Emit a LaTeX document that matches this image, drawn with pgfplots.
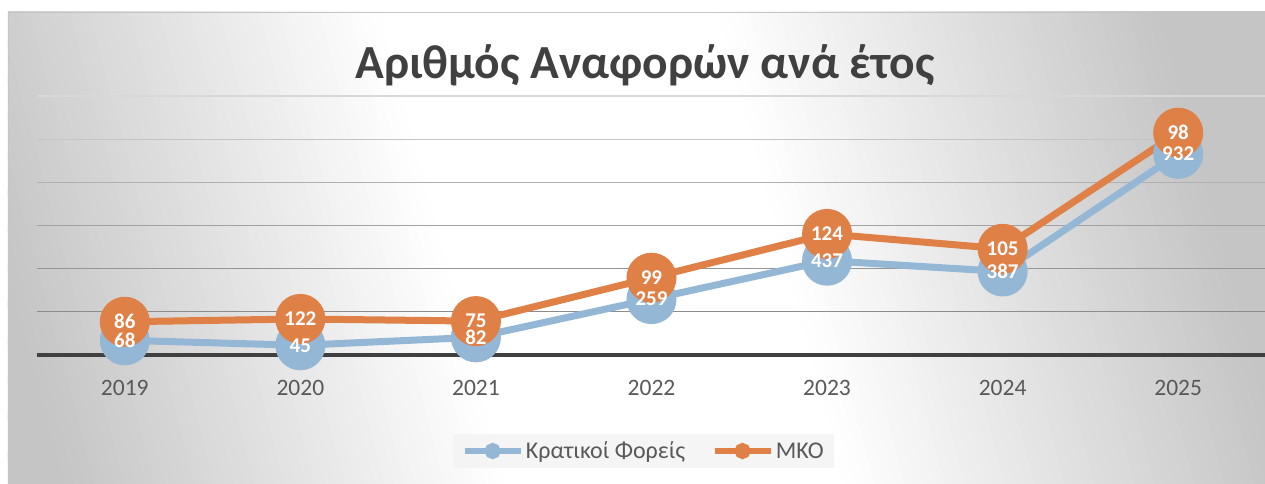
\documentclass[border=0pt]{standalone}
\usepackage{fontspec}
\setmainfont{Carlito}
\usepackage{pgfplots}
\pgfplotsset{compat=1.18}
\usepackage{pgfplotstable}
\definecolor{kf}{RGB}{149,183,214}
\definecolor{mko}{RGB}{223,128,71}
\definecolor{bggray}{RGB}{197,197,197}
\definecolor{txt}{RGB}{64,64,64}
\definecolor{tickc}{RGB}{89,89,89}
\definecolor{g1}{RGB}{140,140,140}
\definecolor{g2}{RGB}{150,150,150}
\definecolor{g3}{RGB}{162,162,162}
\definecolor{g4}{RGB}{176,176,176}
\definecolor{g5}{RGB}{196,196,196}
\definecolor{g6}{RGB}{216,216,216}

% x = year index, kf = Κρατικοί Φορείς, mko = ΜΚΟ, top = stacked position (kf+mko)
\pgfplotstableread{
x kf mko top
0 68 86 154
1 45 122 167
2 82 75 157
3 259 99 358
4 437 124 561
5 387 105 492
6 932 98 1030
}\data

\begin{document}
\begin{tikzpicture}[x=1pt,y=1pt]
\useasboundingbox (-37,-128) rectangle (1228,355);
\fill[white] (-37,-128) rectangle (1228,355);
\begin{scope}
\clip (-29,-128) rectangle (1228,343);
\foreach \d in {-700,-690,...,720}{
  \pgfmathsetmacro\t{min(max((abs(\d+5)-170)/440,0),1)*100}
  \fill[bggray!\t!white] ({508.5+\d},356) -- ({520+\d},356) -- ({654+\d},-146) -- ({642.5+\d},-146) -- cycle;
}
\end{scope}
\draw[gray!45, line width=0.8pt] (-29,-130) -- (-29,343) -- (1230,343);
\node[txt, anchor=base, font=\bfseries\fontsize{47.5}{52}\selectfont] at (608,277) {Αριθμός Αναφορών ανά έτος};
\begin{axis}[
  at={(0,0)}, anchor=south west,
  scale only axis, width=1229pt, height=259pt,
  xmin=-0.5, xmax=6.5, ymin=0, ymax=1200,
  clip=false,
  /pgf/number format/assume math mode=true,
  axis line style={draw=none},
  xtick={0,...,6},
  xticklabels={2019,2020,2021,2022,2023,2024,2025},
  ytick=\empty,
  major tick length=0pt,
  xticklabel style={anchor=base, yshift=-40.5pt, text=tickc, font=\fontsize{23.5}{28}\selectfont},
  legend columns=2,
  legend style={at={(0.4935,-0.3707)}, anchor=center, draw=none, fill={rgb,255:red,242;green,242;blue,242}, fill opacity=0.7, text opacity=1,
    font=\fontsize{24}{28}\selectfont, text=tickc, inner xsep=8pt, inner ysep=6pt,
    /tikz/every even column/.append style={column sep=24pt}},
  legend image code/.code={\begin{scope}[#1]\draw[line width=6.5pt, mark=none] (0pt,0pt) -- (56pt,0pt); \fill (28pt,0pt) circle (4.5pt);\end{scope}},
]
\draw[g6, line width=1.3pt] (axis cs:-0.5,1200) -- (axis cs:6.5,1200);
\draw[g5, line width=1.3pt] (axis cs:-0.5,1000) -- (axis cs:6.5,1000);
\draw[g4, line width=1.3pt] (axis cs:-0.5,800) -- (axis cs:6.5,800);
\draw[g3, line width=1.3pt] (axis cs:-0.5,600) -- (axis cs:6.5,600);
\draw[g2, line width=1.3pt] (axis cs:-0.5,400) -- (axis cs:6.5,400);
\draw[g1, line width=1.3pt] (axis cs:-0.5,200) -- (axis cs:6.5,200);
\draw[txt, line width=4pt] (axis cs:-0.5,0) -- (axis cs:6.5,0);
\addplot[kf, line width=7pt, mark=*, mark size=21.5pt, mark options={fill=kf, draw=none}] table[x=x, y=kf]{\data};
\addlegendentry{Κρατικοί Φορείς}
\addplot[mko, line width=7pt, mark=*, mark size=21.5pt, mark options={fill=mko, draw=none}] table[x=x, y=top]{\data};
\addlegendentry{ΜΚΟ}
\addplot[draw=none, mark=none, forget plot, nodes near coords, point meta=explicit,
  nodes near coords style={anchor=center, text=white, font=\bfseries\fontsize{21}{24}\selectfont}]
  table[x=x, y=kf, meta=kf]{\data};
\addplot[draw=none, mark=none, forget plot, nodes near coords, point meta=explicit,
  nodes near coords style={anchor=center, text=white, font=\bfseries\fontsize{21}{24}\selectfont}]
  table[x=x, y=top, meta=mko]{\data};
\end{axis}
\end{tikzpicture}
\end{document}
